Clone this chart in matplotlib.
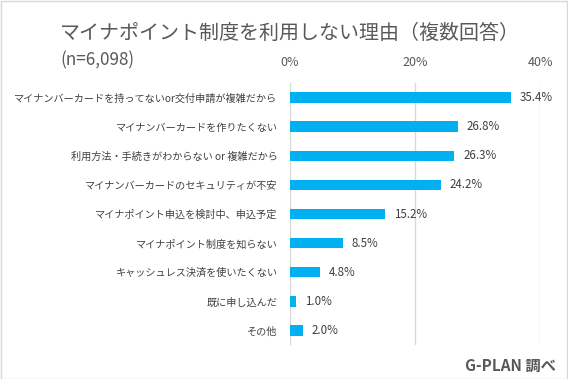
import matplotlib
matplotlib.use("Agg")
import matplotlib.pyplot as plt
from matplotlib.patches import Rectangle

plt.rcParams['font.family'] = ['Noto Sans CJK JP', 'DejaVu Sans']

categories = [
    "マイナンバーカードを持ってないor交付申請が複雑だから",
    "マイナンバーカードを作りたくない",
    "利用方法・手続きがわからない or 複雑だから",
    "マイナンバーカードのセキュリティが不安",
    "マイナポイント申込を検討中、申込予定",
    "マイナポイント制度を知らない",
    "キャッシュレス決済を使いたくない",
    "既に申し込んだ",
    "その他",
]
values = [35.4, 26.8, 26.3, 24.2, 15.2, 8.5, 4.8, 1.0, 2.0]
xticks = [0, 20, 40]
xtick_labels = ["0%", "20%", "40%"]

fig = plt.figure(figsize=(5.68, 3.79), dpi=100)
fig.patches.append(Rectangle((0.5/568, 0.5/379), 1 - 1.5/568, 1 - 1.5/379,
                             transform=fig.transFigure, fill=False,
                             edgecolor="#d9d9d9", linewidth=1))
ax = fig.add_axes([290/568, 1 - 345/379, 250/568, 262/379])

y = list(range(len(categories)))
ax.barh(y, values, height=0.36, color="#00B0F0", zorder=3)
ax.set_ylim(len(categories) - 0.5, -0.5)
ax.set_xlim(0, 40)
ax.set_xticks(xticks)
ax.set_xticklabels(xtick_labels, fontsize=9, color="#595959")
ax.xaxis.tick_top()
ax.tick_params(axis="x", length=0, pad=10)
ax.set_yticks(y)
ax.set_yticklabels(categories, fontsize=7.3, color="#404040")
ax.tick_params(axis="y", length=0, pad=9)
ax.grid(axis="x", color="#d9d9d9", linewidth=1, zorder=0)
for s in ax.spines.values():
    s.set_visible(False)

for yi, v in zip(y, values):
    ax.text(v + 1.4, yi, f"{v:.1f}%", va="center", ha="left",
            fontsize=8.3, color="#404040")

fig.text(60/568, 1 - 33/379, "マイナポイント制度を利用しない理由（複数回答）",
         fontsize=14.4, color="#595959", va="center", ha="left")
fig.text(60/568, 1 - 60/379, "(n=6,098)",
         fontsize=12.3, color="#595959", va="center", ha="left")
fig.text(556/568, 1 - 366/379, "G-PLAN 調べ",
         fontsize=11, color="#595959", va="center", ha="right", fontweight="bold")

fig.savefig("out.png", dpi=100)
